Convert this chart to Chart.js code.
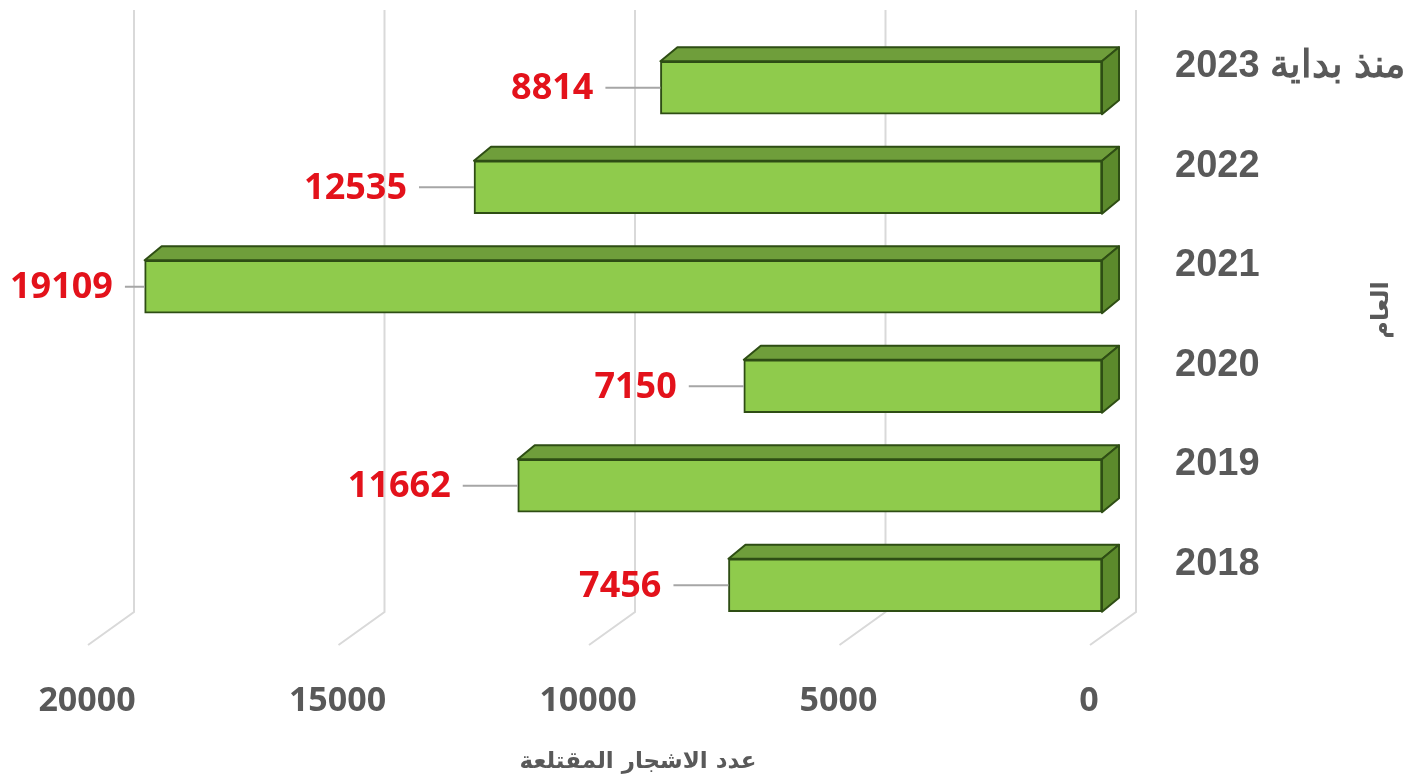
<!DOCTYPE html>
<html><head><meta charset="utf-8">
<script src="https://cdn.jsdelivr.net/npm/chart.js@4"></script>
<style>html,body{margin:0;padding:0;background:#fff;}canvas{display:block}</style>
</head><body>
<canvas id="c" width="1421" height="778" dir="rtl"></canvas>
<script>
const categories = ["منذ بداية 2023", "2022", "2021", "2020", "2019", "2018"];
const treesUprooted = [8814, 12535, 19109, 7150, 11662, 7456];
const xTickValues = [0, 5000, 10000, 15000, 20000];
const xAxisTitle = "عدد الاشجار المقتلعة";
const yAxisTitle = "العام";

const DX = 17, DY = -14;      // bar depth
const BACK = 34, FLOOR = -12; // back wall / floor front offsets
const GREY = '#595959';

function poly(ctx, pts, fill, stroke) {
  ctx.beginPath();
  ctx.moveTo(pts[0][0], pts[0][1]);
  for (let i = 1; i < pts.length; i++) ctx.lineTo(pts[i][0], pts[i][1]);
  ctx.closePath();
  ctx.fillStyle = fill; ctx.fill();
  ctx.strokeStyle = stroke; ctx.lineWidth = 2; ctx.lineJoin = 'round'; ctx.stroke();
}

const bar3d = {
  id: 'bar3d',
  beforeDatasetsDraw(chart) {
    const {ctx, scales: {x}} = chart;
    ctx.save();
    ctx.strokeStyle = '#d9d9d9'; ctx.lineWidth = 2;
    x.ticks.forEach(t => {
      const px = x.getPixelForValue(t.value);
      ctx.beginPath();
      ctx.moveTo(px + BACK, 10);
      ctx.lineTo(px + BACK, 612);
      ctx.lineTo(px + FLOOR, 645);
      ctx.stroke();
    });
    ctx.restore();
  },
  afterDatasetsDraw(chart) {
    const {ctx} = chart;
    const meta = chart.getDatasetMeta(0);
    ctx.save();
    meta.data.forEach((bar, i) => {
      const p = bar.getProps(['x', 'y', 'base', 'height'], true);
      const top = p.y - p.height / 2, bottom = p.y + p.height / 2;
      const left = Math.min(p.x, p.base), right = Math.max(p.x, p.base);
      poly(ctx, [[left, top], [left + DX, top + DY], [right + DX, top + DY], [right, top]], '#6f9e3b', '#2e4d14');
      poly(ctx, [[right, top], [right + DX, top + DY], [right + DX, bottom + DY], [right, bottom]], '#5c8a2c', '#2e4d14');
      // value label + leader
      const txt = String(treesUprooted[i]);
      ctx.font = 'bold 36px "Open Sans"';
      const w = ctx.measureText(txt).width;
      let lr = left - 67;
      if (lr - w < 10) lr = 10 + w;
      ctx.strokeStyle = '#a6a6a6'; ctx.lineWidth = 2;
      ctx.beginPath(); ctx.moveTo(lr + 12, p.y); ctx.lineTo(left, p.y); ctx.stroke();
      ctx.fillStyle = '#e3121b';
      ctx.textAlign = 'right'; ctx.textBaseline = 'middle';
      ctx.fillText(txt, lr, p.y + 1);
    });
    // axis titles
    ctx.fillStyle = GREY;
    ctx.textAlign = 'center'; ctx.textBaseline = 'middle';
    ctx.font = 'bold 23px "DejaVu Sans"';
    ctx.fillText(xAxisTitle, 638, 762);
    ctx.translate(1382, 310);
    ctx.rotate(-Math.PI / 2);
    ctx.font = 'bold 24px "DejaVu Sans"';
    ctx.fillText(yAxisTitle, 0, 0);
    ctx.restore();
  }
};

new Chart(document.getElementById('c'), {
  type: 'bar',
  data: {
    labels: categories,
    datasets: [{
      data: treesUprooted,
      backgroundColor: '#8fcb4c',
      borderColor: '#2e4d14',
      borderWidth: 2,
      borderSkipped: false,
      barThickness: 53
    }]
  },
  options: {
    indexAxis: 'y',
    responsive: false,
    animation: false,
    devicePixelRatio: 1,
    layout: {padding: {left: 100, top: 38, right: 0, bottom: 0}},
    plugins: {legend: {display: false}, tooltip: {enabled: false}},
    scales: {
      x: {
        reverse: true,
        min: 0, max: 20000,
        afterBuildTicks(s) { s.ticks = xTickValues.map(v => ({value: v})); },
        afterFit(s) { s.height = 143; },
        grid: {display: false, drawTicks: false},
        border: {display: false},
        ticks: {
          color: GREY,
          font: {family: '"Open Sans"', size: 34, weight: 'bold'},
          padding: 46,
          labelOffset: -13,
          maxRotation: 0,
          callback: v => String(v)
        }
      },
      y: {
        position: 'right',
        afterFit(s) { s.width = 319; s.paddingTop = 0; s.paddingBottom = 0; },
        grid: {display: false, drawTicks: false},
        border: {display: false},
        ticks: {
          color: GREY,
          font: {family: '"Liberation Sans"', size: 38, weight: 'bold'},
          padding: 73,
          labelOffset: -21
        }
      }
    }
  },
  plugins: [bar3d]
});
</script>
</body></html>
